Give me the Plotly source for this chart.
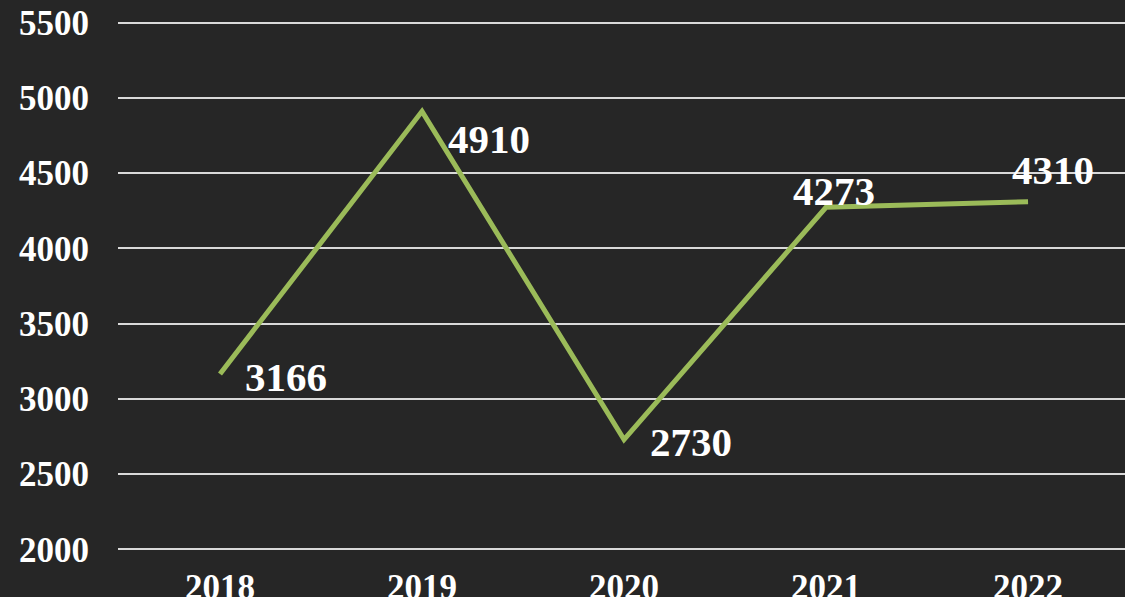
import plotly.graph_objects as go

years = ["2018", "2019", "2020", "2021", "2022"]
values = [3166, 4910, 2730, 4273, 4310]
y_ticks = [2000, 2500, 3000, 3500, 4000, 4500, 5000, 5500]

# label placement (pixel offsets from each point)
label_dx = [23, 24, 24, 8, 25]
label_dy = [-3, -28, -2, 16, 32]
label_anchor = ["left", "left", "left", "center", "center"]

FONT = "Liberation Serif"
BG = "#262626"

fig = go.Figure()
fig.add_trace(go.Scatter(
    x=years, y=values, mode="lines",
    line=dict(color="#9BBB59", width=5),
    hoverinfo="skip", showlegend=False,
))

for i, v in enumerate(values):
    fig.add_annotation(
        x=i, y=v, xref="x", yref="y", text=str(v), showarrow=False,
        xanchor=label_anchor[i], yanchor="middle",
        xshift=label_dx[i], yshift=label_dy[i],
        font=dict(family=FONT, size=41, color="white", weight="bold"),
    )

fig.update_layout(
    width=1125, height=597,
    margin=dict(l=118, r=0, t=21, b=46),
    paper_bgcolor=BG, plot_bgcolor=BG,
    xaxis=dict(
        type="category", range=[-0.505, 4.48], showgrid=False, zeroline=False,
        showline=False, ticks="", automargin=False,
        tickfont=dict(family=FONT, size=35, color="white", weight="bold"),
        ticklabelstandoff=12,
    ),
    yaxis=dict(
        range=[1990, 5510], tickvals=y_ticks, showgrid=True,
        gridcolor="#d9d9d9", gridwidth=1.5, zeroline=False, showline=False,
        ticks="", automargin=False,
        tickfont=dict(family=FONT, size=35, color="white", weight="bold"),
        ticklabelstandoff=28,
    ),
)

fig.write_html("out.html", config={"displayModeBar": False})

with open("out.html", encoding="utf-8") as f:
    html = f.read()
html = html.replace(
    "<head>",
    "<head><style>html,body{margin:0;padding:0;overflow:hidden;background:#262626;}</style>",
    1,
)
with open("out.html", "w", encoding="utf-8") as f:
    f.write(html)
